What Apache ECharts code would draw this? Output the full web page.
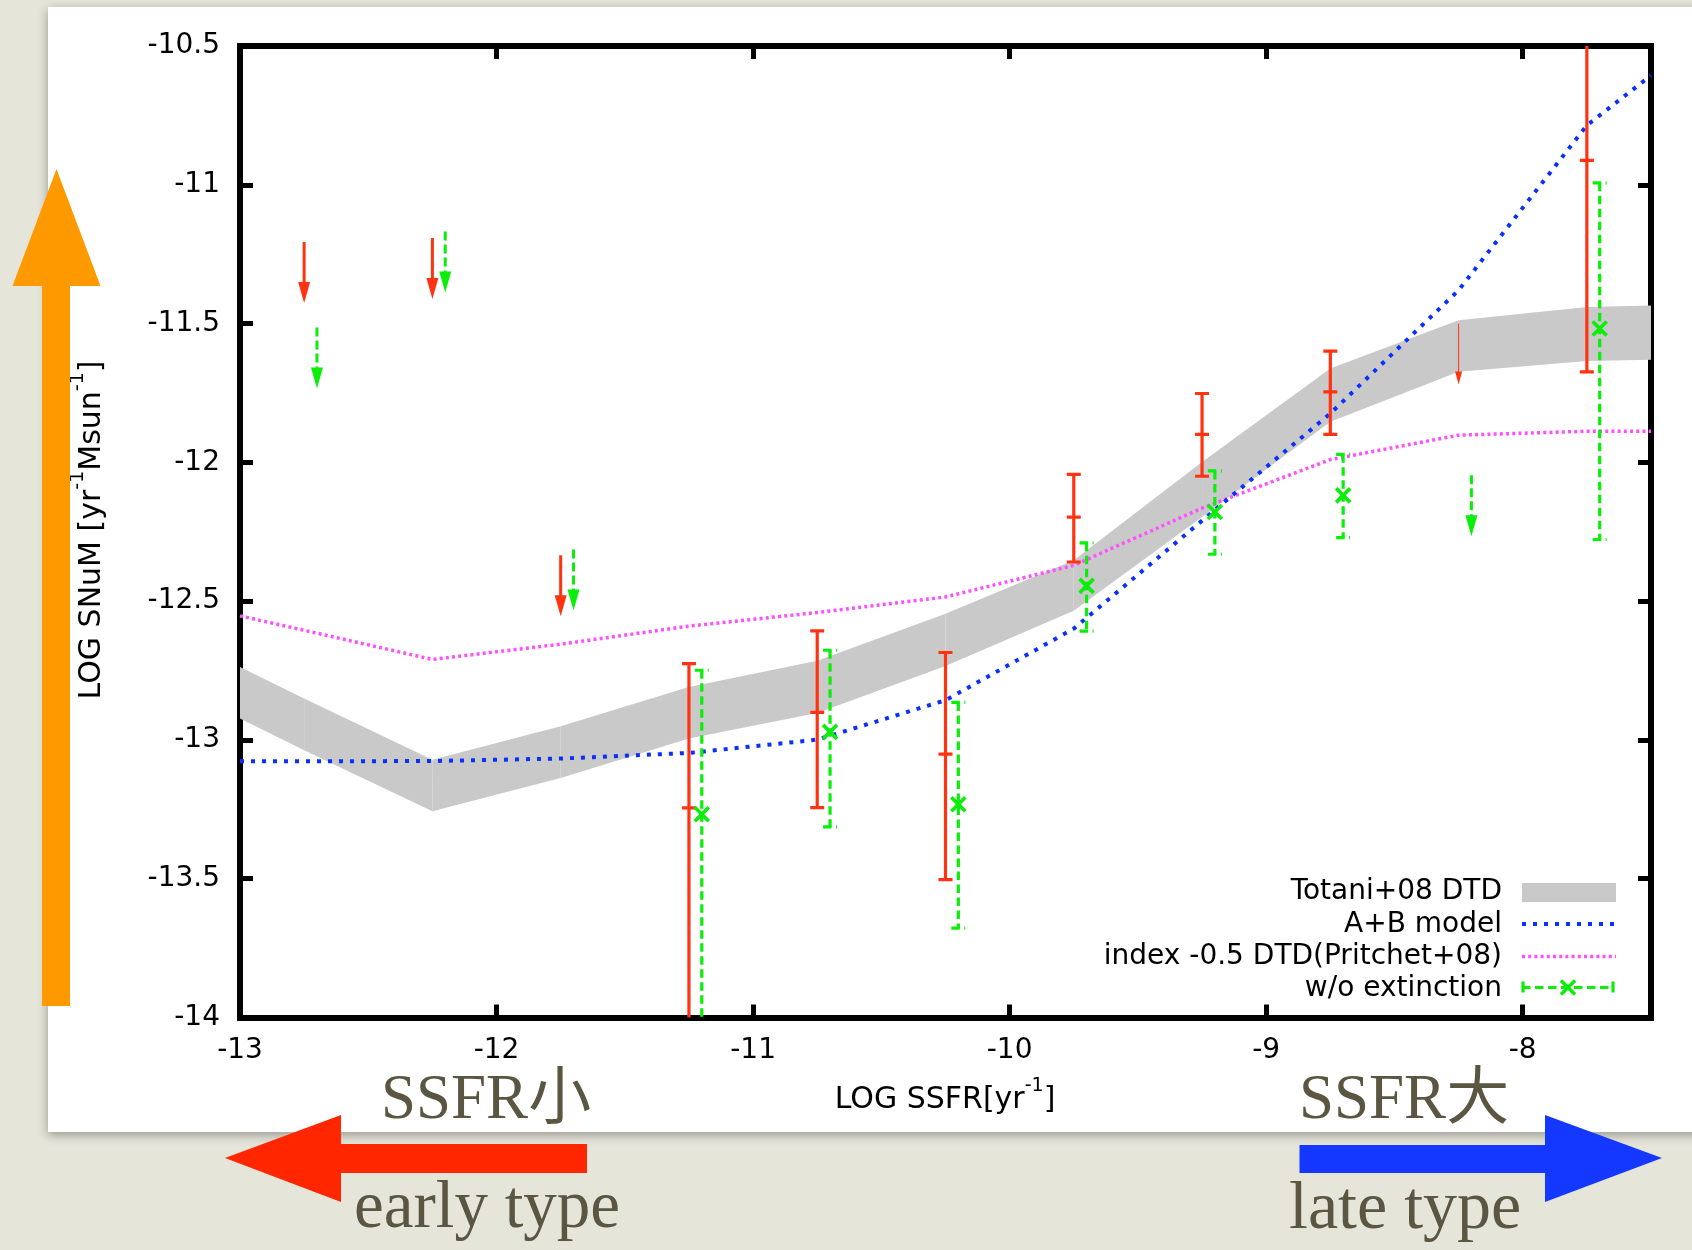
<!DOCTYPE html>
<html>
<head>
<meta charset="utf-8">
<script src="https://cdn.jsdelivr.net/npm/echarts@6/dist/echarts.min.js"></script>
<style>
  html, body { margin: 0; padding: 0; background: #e6e5da; }
  #chart { width: 1692px; height: 1250px; }
</style>
</head>
<body>
<div id="chart"></div>
<script>
// ---- model curves, tabulated on a common log SSFR grid ----
const modelSsfr      = [-13, -12.75, -12.25, -11.75, -11.25, -10.75, -10.25, -9.75, -9.25, -8.75, -8.25, -7.75, -7.5];
const totaniUpper    = [-12.737, -12.851, -13.071, -12.951, -12.809, -12.715, -12.545, -12.353, -11.999, -11.662, -11.488, -11.440, -11.435];
const totaniLower    = [-12.923, -13.037, -13.257, -13.137, -12.995, -12.903, -12.734, -12.535, -12.197, -11.854, -11.674, -11.635, -11.630];
const abModel        = [-13.077, -13.077, -13.076, -13.067, -13.047, -12.999, -12.857, -12.599, -12.210, -11.824, -11.380, -10.786, -10.606];
const pritchetModel  = [-12.553, -12.605, -12.710, -12.655, -12.590, -12.541, -12.485, -12.371, -12.165, -11.990, -11.902, -11.888, -11.888];

// ---- measured rates (extinction corrected) ----
const obsSsfr  = [-11.25, -10.75, -10.25, -9.75, -9.25, -8.75, -7.75];
const obsRate  = [-13.245, -12.901, -13.051, -12.197, -11.899, -11.746, -10.912];
const obsLow   = [-14.30, -13.244, -13.503, -12.359, -12.050, -11.899, -11.674];
const obsHigh  = [-12.725, -12.607, -12.685, -12.043, -11.752, -11.599, -10.150];

// ---- measured rates without extinction correction ----
const noExtSsfr = [-11.2, -10.7, -10.2, -9.7, -9.2, -8.7, -7.7];
const noExtRate = [-13.268, -12.971, -13.232, -12.445, -12.179, -12.119, -11.518];
const noExtLow  = [-14.30, -13.313, -13.678, -12.608, -12.331, -12.271, -12.278];
const noExtHigh = [-12.749, -12.677, -12.865, -12.290, -12.031, -11.971, -10.993];

// ---- upper limits ----
const obsLimitSsfr     = [-12.75, -12.25, -11.75];
const obsLimitRate     = [-11.206, -11.192, -12.335];
const obsWeakLimitSsfr = [-8.25];
const obsWeakLimitRate = [-11.5];
const noExtLimitSsfr   = [-12.7, -12.2, -11.7, -8.2];
const noExtLimitRate   = [-11.514, -11.168, -12.314, -12.046];

// ---- axes ----
const xRange = [-13, -7.5];
const yRange = [-14, -10.5];
const xStep = 1;
const yStep = 0.5;

// ---- legend entries ----
const legendNames = ['Totani+08 DTD', 'A+B model', 'index -0.5 DTD(Pritchet+08)', 'w/o extinction'];

const RED = '#ff3311';
const GREEN = '#0aee0a';
const BLUE = '#0a30ff';
const MAGENTA = '#ff50ff';
const GREY = '#c9c9c9';
const SANS = 'DejaVu Sans';
const SERIF = '"Liberation Serif", "Noto Sans CJK JP", serif';
const OLIVE = '#5a5641';

const chart = echarts.init(document.getElementById('chart'), null, { renderer: 'canvas' });

function pairs(xs, ys) { return xs.map((x, i) => [x, ys[i]]); }

// one quadrilateral per grid interval of the Totani band
const bandData = modelSsfr.slice(0, -1).map((x, i) => [
  x, totaniLower[i], totaniUpper[i], modelSsfr[i + 1], totaniLower[i + 1], totaniUpper[i + 1]
]);

function bandItem(params, api) {
  const a = api.coord([api.value(0), api.value(2)]);
  const b = api.coord([api.value(3), api.value(5)]);
  const c = api.coord([api.value(3), api.value(4)]);
  const d = api.coord([api.value(0), api.value(1)]);
  return { type: 'polygon', shape: { points: [a, b, c, d] }, style: { fill: GREY } };
}

function errorBarItem(color, dash, marker) {
  return function (params, api) {
    const x = api.value(0);
    const lo = api.coord([x, api.value(1)]);
    const mid = api.coord([x, api.value(2)]);
    const hi = api.coord([x, api.value(3)]);
    const hw = 7;
    const st = () => ({ stroke: color, lineWidth: 3.2, lineDash: dash, fill: null });
    const kids = [
      { type: 'line', shape: { x1: hi[0], y1: hi[1], x2: lo[0], y2: lo[1] }, style: st() },
      { type: 'line', shape: { x1: hi[0] - hw, y1: hi[1], x2: hi[0] + hw, y2: hi[1] }, style: st() },
      { type: 'line', shape: { x1: lo[0] - hw, y1: lo[1], x2: lo[0] + hw, y2: lo[1] }, style: st() }
    ];
    if (marker === 'tick') {
      kids.push({ type: 'line', shape: { x1: mid[0] - hw, y1: mid[1], x2: mid[0] + hw, y2: mid[1] },
        style: { stroke: color, lineWidth: 3.2 } });
    } else {
      const m = 7;
      kids.push({ type: 'line', shape: { x1: mid[0] - m, y1: mid[1] - m, x2: mid[0] + m, y2: mid[1] + m },
        style: { stroke: color, lineWidth: 3.6 } });
      kids.push({ type: 'line', shape: { x1: mid[0] - m, y1: mid[1] + m, x2: mid[0] + m, y2: mid[1] - m },
        style: { stroke: color, lineWidth: 3.6 } });
    }
    return { type: 'group', children: kids };
  };
}

function limitArrowItem(color, dash, lw, headW, headH) {
  return function (params, api) {
    const p = api.coord([api.value(0), api.value(1)]);
    const tipY = p[1] + 61;
    return {
      type: 'group',
      children: [
        { type: 'line', shape: { x1: p[0], y1: p[1], x2: p[0], y2: tipY - headH + 1 },
          style: { stroke: color, lineWidth: lw, lineDash: dash } },
        { type: 'polygon', shape: { points: [[p[0] - headW / 2, tipY - headH], [p[0] + headW / 2, tipY - headH], [p[0], tipY]] },
          style: { fill: color } }
      ]
    };
  };
}

const axisLineStyle = { color: '#000', width: 6, cap: 'square' };
const tickStyle = { show: true, inside: true, length: 13, lineStyle: { color: '#000', width: 5 } };

function xAxisDef(pos, labels) {
  return {
    type: 'value', position: pos, min: xRange[0], max: xRange[1], interval: xStep,
    axisLine: { show: true, onZero: false, lineStyle: axisLineStyle },
    axisTick: tickStyle,
    axisLabel: { show: labels, margin: 19, color: '#000', fontFamily: SANS, fontSize: 28,
      showMinLabel: true, showMaxLabel: false },
    splitLine: { show: false }
  };
}
function yAxisDef(pos, labels) {
  return {
    type: 'value', position: pos, min: yRange[0], max: yRange[1], interval: yStep,
    axisLine: { show: true, onZero: false, lineStyle: axisLineStyle },
    axisTick: tickStyle,
    axisLabel: { show: labels, margin: 20, color: '#000', fontFamily: SANS, fontSize: 28,
      showMinLabel: true, showMaxLabel: true },
    splitLine: { show: false }
  };
}

// legend, drawn at the lower right of the plot frame
const legendRight = 1502;
const legendRows = [892, 924.3, 956.3, 988.6];
const legendGraphics = [];
legendNames.forEach((name, i) => {
  legendGraphics.push({
    type: 'text', x: legendRight, y: legendRows[i], z: 50,
    style: { text: name, align: 'right', verticalAlign: 'middle', fontFamily: SANS, fontSize: 28, fill: '#000' }
  });
});
legendGraphics.push(
  { type: 'rect', z: 50, shape: { x: 1522, y: 883, width: 94, height: 19 }, style: { fill: GREY } },
  { type: 'line', z: 50, shape: { x1: 1522, y1: 924, x2: 1614, y2: 924 },
    style: { stroke: BLUE, lineWidth: 4, lineDash: [4, 7] } },
  { type: 'line', z: 50, shape: { x1: 1522, y1: 956.5, x2: 1616, y2: 956.5 },
    style: { stroke: MAGENTA, lineWidth: 3.5, lineDash: [3, 3.2] } },
  { type: 'line', z: 50, shape: { x1: 1522, y1: 987.5, x2: 1614, y2: 987.5 },
    style: { stroke: GREEN, lineWidth: 3.2, lineDash: [8.5, 4.5] } },
  { type: 'line', z: 50, shape: { x1: 1523, y1: 981.5, x2: 1523, y2: 992.5 }, style: { stroke: GREEN, lineWidth: 3.2 } },
  { type: 'line', z: 50, shape: { x1: 1613, y1: 981.5, x2: 1613, y2: 992.5 }, style: { stroke: GREEN, lineWidth: 3.2 } },
  { type: 'line', z: 50, shape: { x1: 1561, y1: 980.5, x2: 1575, y2: 994.5 }, style: { stroke: GREEN, lineWidth: 3.6 } },
  { type: 'line', z: 50, shape: { x1: 1561, y1: 994.5, x2: 1575, y2: 980.5 }, style: { stroke: GREEN, lineWidth: 3.6 } }
);

const nameRich = {
  a: { fontFamily: SANS, fontSize: 30, lineHeight: 46, fill: '#000' },
  s: { fontFamily: SANS, fontSize: 19, lineHeight: 20, verticalAlign: 'top', fill: '#000' }
};

const option = {
  animation: false,
  backgroundColor: 'transparent',
  grid: { left: 240, right: 41, top: 46, bottom: 232.5, containLabel: false, outerBoundsMode: 'none' },
  xAxis: [xAxisDef('bottom', true), xAxisDef('top', false)],
  yAxis: [yAxisDef('left', true), yAxisDef('right', false)],
  graphic: [
    // white slide panel with a soft shadow
    { type: 'rect', z: -100, shape: { x: 48, y: 7, width: 1700, height: 1125 },
      style: { fill: '#ffffff', shadowBlur: 10, shadowColor: 'rgba(0,0,0,0.35)', shadowOffsetY: 3 } },
    // axis titles
    { type: 'text', x: 945, y: 1100, z: 50,
      style: { text: '{a|LOG SSFR[yr}{s|-1}{a|]}', rich: nameRich, align: 'center', verticalAlign: 'middle' } },
    { type: 'text', x: 92, y: 530, rotation: Math.PI / 2, z: 50,
      style: { text: '{a|LOG SNuM [yr}{s|-1}{a|Msun}{s|-1}{a|]}', rich: nameRich, align: 'center', verticalAlign: 'middle' } },
    // orange arrow: rate increases upward
    { type: 'rect', z: 60, shape: { x: 42, y: 285, width: 28, height: 721 }, style: { fill: '#ff9900' } },
    { type: 'polygon', z: 60, shape: { points: [[12.5, 286], [100.5, 286], [56.5, 169]] }, style: { fill: '#ff9900' } },
    // red arrow: towards early types
    { type: 'rect', z: 60, shape: { x: 340, y: 1144, width: 247, height: 29 }, style: { fill: '#ff2600' } },
    { type: 'polygon', z: 60, shape: { points: [[341, 1115], [341, 1202], [225, 1158]] }, style: { fill: '#ff2600' } },
    // blue arrow: towards late types
    { type: 'rect', z: 60, shape: { x: 1299.5, y: 1145, width: 247, height: 28 }, style: { fill: '#1438ff' } },
    { type: 'polygon', z: 60, shape: { points: [[1545, 1115], [1545, 1202], [1662, 1158]] }, style: { fill: '#1438ff' } },
    // annotations
    { type: 'text', x: 381, y: 1101.5, z: 60,
      style: { text: 'SSFR小', align: 'left', verticalAlign: 'middle', fontFamily: SERIF, fontSize: 63, fill: OLIVE } },
    { type: 'text', x: 354, y: 1209.5, z: 60,
      style: { text: 'early type', align: 'left', verticalAlign: 'middle', fontFamily: SERIF, fontSize: 67, fill: OLIVE } },
    { type: 'text', x: 1299, y: 1101.5, z: 60,
      style: { text: 'SSFR大', align: 'left', verticalAlign: 'middle', fontFamily: SERIF, fontSize: 63, fill: OLIVE } },
    { type: 'text', x: 1289, y: 1209.8, z: 60,
      style: { text: 'late type', align: 'left', verticalAlign: 'middle', fontFamily: SERIF, fontSize: 68, fill: OLIVE } }
  ].concat(legendGraphics),
  series: [
    {
      type: 'custom', name: legendNames[0], z: 1, silent: true, clip: true,
      data: bandData, encode: { x: [0, 3], y: [1, 2, 4, 5] },
      renderItem: bandItem
    },
    {
      type: 'line', name: legendNames[2], z: 2, silent: true, clip: true,
      data: pairs(modelSsfr, pritchetModel), symbol: 'none', showSymbol: false,
      lineStyle: { color: MAGENTA, width: 3.5, type: [3, 3.2], cap: 'butt' }
    },
    {
      type: 'line', name: legendNames[1], z: 3, silent: true, clip: true,
      data: pairs(modelSsfr, abModel), symbol: 'none', showSymbol: false,
      lineStyle: { color: BLUE, width: 4, type: [4, 7], cap: 'butt' }
    },
    {
      type: 'custom', name: 'extinction corrected', z: 4, silent: true, clip: true,
      data: obsSsfr.map((x, i) => [x, obsLow[i], obsRate[i], obsHigh[i]]),
      encode: { x: 0, y: [1, 2, 3] },
      renderItem: errorBarItem(RED, null, 'tick')
    },
    {
      type: 'custom', name: legendNames[3], z: 5, silent: true, clip: true,
      data: noExtSsfr.map((x, i) => [x, noExtLow[i], noExtRate[i], noExtHigh[i]]),
      encode: { x: 0, y: [1, 2, 3] },
      renderItem: errorBarItem(GREEN, [8.5, 4.5], 'cross')
    },
    {
      type: 'custom', name: 'upper limits', z: 4, silent: true, clip: true,
      data: pairs(obsLimitSsfr, obsLimitRate), encode: { x: 0, y: 1 },
      renderItem: limitArrowItem(RED, null, 3, 12, 21)
    },
    {
      type: 'custom', name: 'upper limit (weak)', z: 4, silent: true, clip: true,
      data: pairs(obsWeakLimitSsfr, obsWeakLimitRate), encode: { x: 0, y: 1 },
      renderItem: limitArrowItem(RED, null, 1, 7, 13)
    },
    {
      type: 'custom', name: 'upper limits w/o extinction', z: 5, silent: true, clip: true,
      data: pairs(noExtLimitSsfr, noExtLimitRate), encode: { x: 0, y: 1 },
      renderItem: limitArrowItem(GREEN, [9, 4], 3, 12, 21)
    }
  ]
};

chart.setOption(option);
</script>
</body>
</html>
